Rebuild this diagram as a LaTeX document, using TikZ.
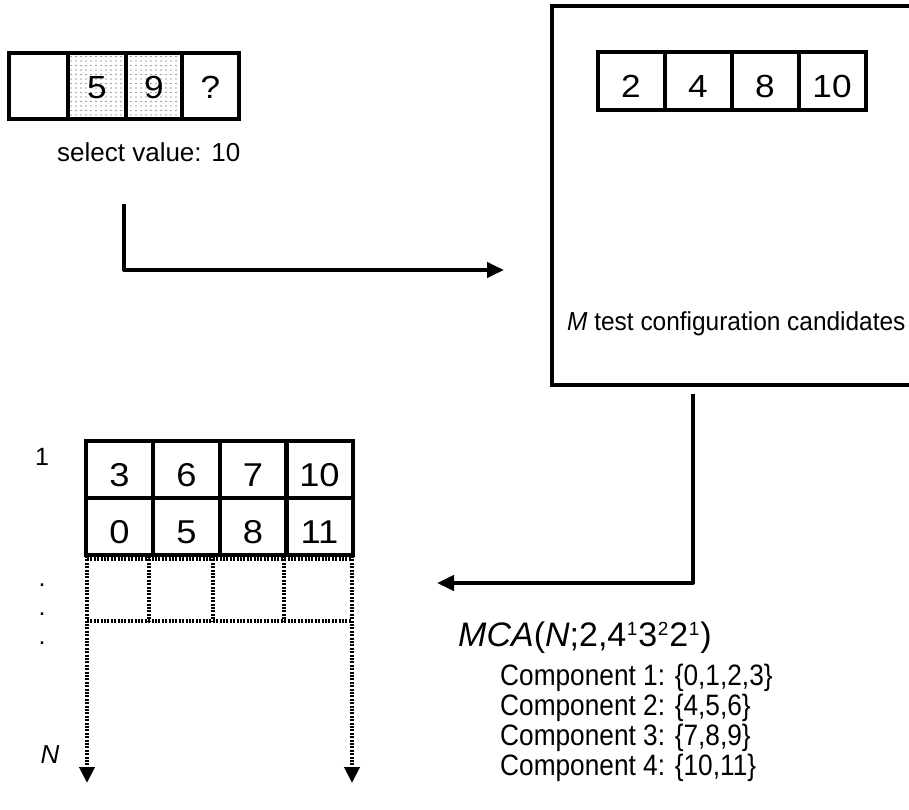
\documentclass[tikz,border=0pt]{standalone}
\usepackage{fontspec}
\setmainfont{Liberation Sans}
\newfontfamily\narrowfont[FakeStretch=0.94]{Liberation Sans}
\newfontfamily\condfont[FakeStretch=0.89]{Liberation Sans}
\newfontfamily\widefont[FakeStretch=1.1]{Liberation Sans}
\usetikzlibrary{arrows.meta,patterns}
\pgfdeclarepatternformonly{sdots}{\pgfqpoint{-1pt}{-1pt}}{\pgfqpoint{6pt}{5.5pt}}{\pgfqpoint{5pt}{4.5pt}}{%
  \pgfpathcircle{\pgfqpoint{1pt}{1pt}}{0.6pt}\pgfusepath{fill}}
\begin{document}
\begin{tikzpicture}[x=1pt,y=-1pt,
  cellbox/.style={draw,line width=4pt,inner sep=0pt,anchor=center},
  tlcell/.style={cellbox,minimum height=66pt,text height=25pt,text depth=0pt,font=\widefont\fontsize{32}{36}\selectfont},
  trcell/.style={cellbox,minimum width=67pt,minimum height=58pt,text height=33pt,text depth=0pt,font=\widefont\fontsize{32}{36}\selectfont},
  btcell/.style={cellbox,minimum width=67pt,minimum height=57pt,text height=34pt,text depth=0pt,font=\widefont\fontsize{33}{36}\selectfont},
  dotfill/.style={pattern=sdots,pattern color=black!75},
  conn/.style={line width=4pt,line join=round,-{Triangle[length=17pt,width=15pt]}},
  dotline/.style={line width=4pt,dash pattern=on 2pt off 1.4pt},
  dotarrow/.style={dotline,-{Triangle[length=16pt,width=15pt]}},
  lbl/.style={inner sep=0pt,font=\fontsize{25}{28}\selectfont},
  comptxt/.style={inner sep=0pt,anchor=base west,font=\condfont\fontsize{29.5}{33}\selectfont}]
\newcommand{\supn}[1]{\hspace{0.5pt}\raisebox{11pt}{\fontsize{19}{19}\selectfont #1}\hspace{1pt}}
\useasboundingbox (0,0) rectangle (909,809);

% top-left array
\node[tlcell,minimum width=59pt] (t1) at (38.5,86) {};
\node[tlcell,dotfill,minimum width=58pt] (t2) at (97,86) {5};
\node[tlcell,dotfill,minimum width=56pt] (t3) at (154,86) {9};
\node[tlcell,minimum width=57pt] (t4) at (210.5,86) {?};
\node[inner sep=0pt,anchor=base west,font=\fontsize{26}{30}\selectfont] (sel) at (57,161) {select value: 10};

% candidates box
\coordinate (cb1) at (925,6);
\coordinate (cb2) at (552,6);
\coordinate (cb3) at (552,385);
\coordinate (cb4) at (925,385);
\draw[line width=4pt,line join=miter] (cb1) -- (cb2) -- (cb3) -- (cb4);
\node[trcell] (c1) at (631,81) {2};
\node[trcell] (c2) at (698,81) {4};
\node[trcell] (c3) at (765,81) {8};
\node[trcell] (c4) at (832,81) {10};
\node[inner sep=0pt,anchor=base west,font=\narrowfont\fontsize{26}{30}\selectfont] (mtxt) at (567,330) {\textit{M} test configuration candidates};

% arrows
\coordinate (a1s) at (124,204);
\coordinate (a1e) at (504,270);
\draw[conn] (a1s) |- (a1e);
\coordinate (a2s) at (693,394);
\coordinate (a2e) at (437,583);
\draw[conn] (a2s) |- (a2e);

% bottom array
\node[btcell] (b11) at (119.5,469.5) {3};
\node[btcell] (b12) at (186.5,469.5) {6};
\node[btcell] (b13) at (253,469.5) {7};
\node[btcell] (b14) at (319.5,469.5) {10};
\node[btcell] (b21) at (119.5,526.5) {0};
\node[btcell] (b22) at (186.5,526.5) {5};
\node[btcell] (b23) at (253,526.5) {8};
\node[btcell] (b24) at (319.5,526.5) {11};

\coordinate (d0) at (87,556);
\coordinate (d1) at (149,556);
\coordinate (d2) at (213,556);
\coordinate (d3) at (284,556);
\coordinate (d4) at (352,556);
\coordinate (e0) at (87,621);
\coordinate (e1) at (149,621);
\coordinate (e2) at (213,621);
\coordinate (e3) at (284,621);
\coordinate (e4) at (352,621);
\coordinate (f0) at (87,783);
\coordinate (f4) at (352,783);
\draw[dotline] ([yshift=-3pt]d0) -- ([yshift=-3pt]d4);
\draw[dotline] (d1) -- (e1);
\draw[dotline] (d2) -- (e2);
\draw[dotline] (d3) -- (e3);
\draw[dotline] (e0) -- (e4);
\draw[dotarrow] (d0) -- (f0);
\draw[dotarrow] (d4) -- (f4);

\node[lbl] (r1) at (42,457) {1};
\node[lbl,anchor=base] (p1) at (42,586) {.};
\node[lbl,anchor=base] (p2) at (42,615) {.};
\node[lbl,anchor=base] (p3) at (42,644) {.};
\node[lbl,font=\fontsize{26}{28}\selectfont] (rn) at (50,755) {\textit{N}};

% MCA text
\node[inner sep=0pt,anchor=base west,font=\fontsize{34}{38}\selectfont] (mca) at (458,646)
  {\textit{MCA}(\textit{N};2,4\supn{1}3\supn{2}2\supn{1})};
\node[comptxt] (k1) at (500,685) {Component 1: \{0,1,2,3\}};
\node[comptxt] (k2) at (500,715) {Component 2: \{4,5,6\}};
\node[comptxt] (k3) at (500,745) {Component 3: \{7,8,9\}};
\node[comptxt] (k4) at (500,775) {Component 4: \{10,11\}};
\end{tikzpicture}
\end{document}
